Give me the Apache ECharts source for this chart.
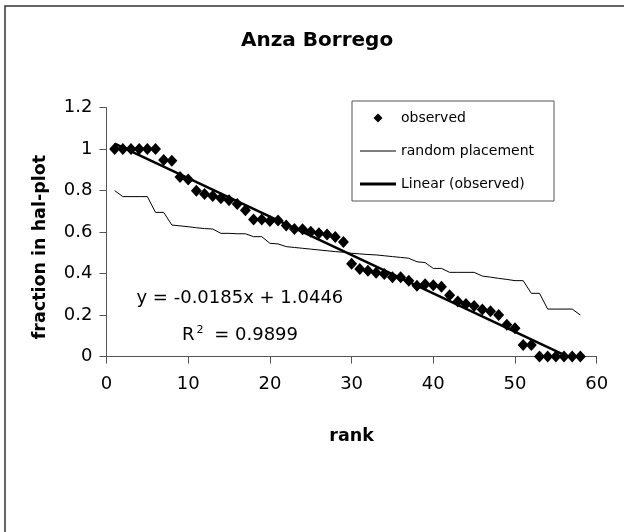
<!DOCTYPE html>
<html>
<head>
<meta charset="utf-8">
<script src="https://cdn.jsdelivr.net/npm/echarts@6/dist/echarts.min.js"></script>
<style>
html,body{margin:0;padding:0;background:#fff;}
#chart{width:624px;height:532px;}
</style>
</head>
<body>
<div id="chart"></div>
<script>
// ---- data ----
const ranks = [1,2,3,4,5,6,7,8,9,10,11,12,13,14,15,16,17,18,19,20,21,22,23,24,25,26,27,28,29,30,
  31,32,33,34,35,36,37,38,39,40,41,42,43,44,45,46,47,48,49,50,51,52,53,54,55,56,57,58];
const observed = [1,1,1,1,1,1,0.948,0.944,0.866,0.853,0.799,0.784,0.774,0.763,0.753,0.736,0.705,0.661,0.661,0.653,
  0.656,0.632,0.615,0.614,0.602,0.594,0.588,0.576,0.552,0.448,0.422,0.414,0.404,0.398,0.383,0.383,0.365,0.342,0.349,0.344,
  0.337,0.296,0.265,0.254,0.244,0.227,0.218,0.201,0.154,0.137,0.056,0.056,0,0,0,0,0,0];
const randomPlacement = [0.800,0.771,0.771,0.771,0.771,0.695,0.695,0.634,0.630,0.626,0.621,0.617,0.615,0.594,0.594,0.592,0.592,0.578,0.578,0.546,
  0.543,0.530,0.526,0.522,0.518,0.514,0.510,0.506,0.503,0.498,0.495,0.492,0.490,0.486,0.482,0.478,0.474,0.457,0.453,0.425,
  0.425,0.406,0.406,0.406,0.406,0.388,0.383,0.377,0.372,0.366,0.366,0.305,0.305,0.229,0.229,0.229,0.229,0.200];
const trendSlope = -0.0185;
const trendIntercept = 1.0446;
const trendStartX = 1;
const xTicks = [0,10,20,30,40,50,60];
const yTicks = [0,0.2,0.4,0.6,0.8,1,1.2];
const titleText = 'Anza Borrego';
const xName = 'rank';
const yName = 'fraction in hal-plot';
const seriesNames = ['observed','random placement','Linear (observed)'];
const eqText = 'y = -0.0185x + 1.0446';
const r2Value = '0.9899';

// ---- build ----
const obsData = ranks.map((r,i)=>[r, observed[i]]);
const rndData = ranks.map((r,i)=>[r, randomPlacement[i]]);
const trendEndX = -trendIntercept / trendSlope; // clipped at axis minimum 0
const trendData = [[trendStartX, trendIntercept + trendSlope*trendStartX],[trendEndX, 0]];

const FONT = 'DejaVu Sans';
const chart = echarts.init(document.getElementById('chart'), null, {renderer:'canvas'});
chart.setOption({
  animation:false,
  backgroundColor:'#fff',
  title:{
    text:titleText, left:236, top:26,
    textStyle:{fontFamily:FONT, fontSize:20, fontWeight:'bold', color:'#000'}
  },
  legend:{
    orient:'vertical', left:352, top:101,
    padding:[10,20,10,8],
    itemWidth:36, itemHeight:9, itemGap:19, itemTextGap:6,
    symbolKeepAspect:true,
    backgroundColor:'#fff', borderColor:'#555', borderWidth:1, borderRadius:0,
    textStyle:{fontFamily:FONT, fontSize:14, color:'#000'},
    data:[
      {name:seriesNames[0], icon:'path://M5,0 L10,5 L5,10 L0,5 Z', itemStyle:{color:'#000', opacity:1}},
      {name:seriesNames[1], icon:'path://M0,0 L36,0 L36,1 L0,1 Z', itemStyle:{color:'#000', opacity:1}},
      {name:seriesNames[2], icon:'path://M0,0 L36,0 L36,3 L0,3 Z', itemStyle:{color:'#000', opacity:1}}
    ]
  },
  grid:{left:106.5, right:27.3, top:107.6, bottom:175.4, containLabel:false, outerBoundsMode:'none'},
  xAxis:{
    type:'value', min:xTicks[0], max:xTicks[xTicks.length-1], interval:10,
    name:xName, nameLocation:'middle', nameGap:71,
    nameTextStyle:{fontFamily:FONT, fontSize:17.5, fontWeight:'bold', color:'#000'},
    axisLine:{show:true, onZero:false, lineStyle:{color:'#555', width:1}},
    axisTick:{show:true, inside:false, length:7, lineStyle:{color:'#555', width:1}},
    axisLabel:{fontFamily:FONT, fontSize:18, color:'#000', margin:19},
    splitLine:{show:false}
  },
  yAxis:{
    type:'value', min:yTicks[0], max:yTicks[yTicks.length-1], interval:0.2,
    name:yName, nameLocation:'middle', nameGap:57, nameRotate:90,
    nameTextStyle:{fontFamily:FONT, fontSize:17.5, fontWeight:'bold', color:'#000', padding:[0,30,0,0]},
    axisLine:{show:true, onZero:false, lineStyle:{color:'#555', width:1}},
    axisTick:{show:true, inside:false, length:7, lineStyle:{color:'#555', width:1}},
    axisLabel:{fontFamily:FONT, fontSize:18, color:'#000', margin:14},
    splitLine:{show:false}
  },
  series:[
    {
      name:seriesNames[0], type:'scatter', data:obsData,
      symbol:'diamond', symbolSize:[11,12],
      itemStyle:{color:'#000', opacity:1}, z:3
    },
    {
      name:seriesNames[1], type:'line', data:rndData,
      symbol:'none', showSymbol:false,
      lineStyle:{color:'#000', width:1}, itemStyle:{color:'#000'}, z:2
    },
    {
      name:seriesNames[2], type:'line', data:trendData,
      symbol:'none', showSymbol:false,
      lineStyle:{color:'#000', width:2.5}, itemStyle:{color:'#000'}, z:4
    }
  ],
  graphic:[
    {type:'rect', silent:true, z:-1, shape:{x:5, y:6, width:700, height:600},
     style:{fill:'none', stroke:'#333', lineWidth:1.5}},
    {type:'text', silent:true, x:136.5, y:298.6,
     style:{text:eqText, fontFamily:FONT, fontSize:18, fill:'#000', align:'left', verticalAlign:'middle'}},
    {type:'text', silent:true, x:182, y:335,
     style:{text:'{a|R}{s|2}{a| = ' + r2Value + '}', align:'left', verticalAlign:'middle',
       rich:{
         a:{fontFamily:FONT, fontSize:18, fill:'#000', color:'#000'},
         s:{fontFamily:FONT, fontSize:11, fill:'#000', color:'#000', verticalAlign:'top', padding:[0,5,10,2]}
       }}}
  ]
});
</script>
</body>
</html>
